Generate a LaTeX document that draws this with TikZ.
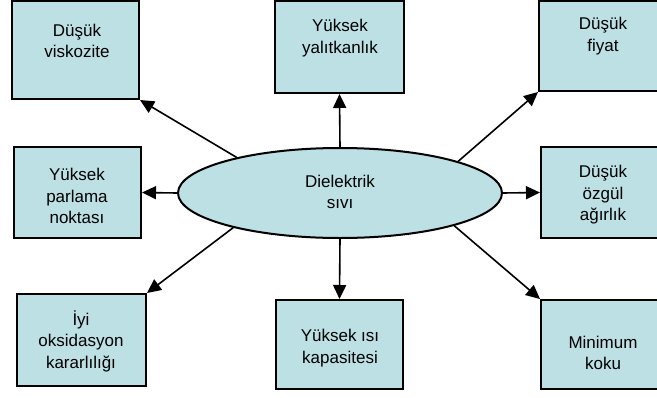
\documentclass[tikz,border=0pt]{standalone}
\usepackage{fontspec}
\setmainfont{Liberation Sans}
\usetikzlibrary{shapes.geometric,arrows.meta}
\definecolor{boxfill}{RGB}{188,224,228}
\tikzset{
  every picture/.style={x=1pt,y=-1pt},
  pbox/.style={draw=black,line width=2pt,fill=boxfill,inner sep=0pt},
  txt/.style={align=center,inner sep=0pt,font=\fontsize{17}{21.5}\selectfont},
  conn/.style={line width=1.6pt,-{Triangle[length=14pt,width=13pt]}}
}
\begin{document}
\begin{tikzpicture}
\useasboundingbox (0,0) rectangle (657,397);
\clip (0,0) rectangle (657,397);
\fill[white] (0,0) rectangle (657,397);
% boxes
\node[pbox,minimum width=127pt,minimum height=98pt] (b1) at (75.5,50) {};
\node[pbox,minimum width=129pt,minimum height=92pt] (b2) at (339.5,47) {};
\node[pbox,minimum width=160pt,minimum height=90pt] (b3) at (619,46) {};
\node[pbox,minimum width=127pt,minimum height=91pt] (b4) at (77.5,192.5) {};
\node[pbox,minimum width=160pt,minimum height=91pt] (b6) at (621,192.5) {};
\node[pbox,minimum width=129pt,minimum height=92pt] (b7) at (81.5,340) {};
\node[pbox,minimum width=127pt,minimum height=89pt] (b8) at (339.5,344.5) {};
\node[pbox,minimum width=160pt,minimum height=89pt] (b9) at (621,344.5) {};
% ellipse
\node[ellipse,draw=black,line width=2pt,fill=boxfill,minimum width=324pt,minimum height=90pt,inner sep=0pt] (e) at (340,193) {};
% texts
\node[txt] (t1) at (77,41) {Düşük\\viskozite};
\node[txt] (t2) at (340,38) {Yüksek\\yalıtkanlık};
\node[txt] (t3) at (603,36) {Düşük\\fiyat};
\node[txt] (t4) at (77,196) {Yüksek\\parlama\\noktası};
\node[txt] (t6) at (603,195) {Düşük\\özgül\\ağırlık};
\node[txt] (t7) at (81,341) {İyi\\oksidasyon\\kararlılığı};
\node[txt] (t8) at (340,348) {Yüksek ısı\\kapasitesi};
\node[txt] (t9) at (603,353) {Minimum\\koku};
\node[txt] (te) at (340,192) {Dielektrik\\sıvı};
% connectors
\draw[conn] (e.161.9) -- (b1.south east);
\draw[conn] (e.north) -- (b2.south);
\draw[conn] (e.15.6) -- (b3.south west);
\draw[conn] (e.west) -- (b4.east);
\draw[conn] (e.east) -- (b6.west);
\draw[conn] (e.198.8) -- (b7.north east);
\draw[conn] (e.south) -- (b8.north);
\draw[conn] (e.-16) -- (b9.north west);
\end{tikzpicture}
\end{document}
